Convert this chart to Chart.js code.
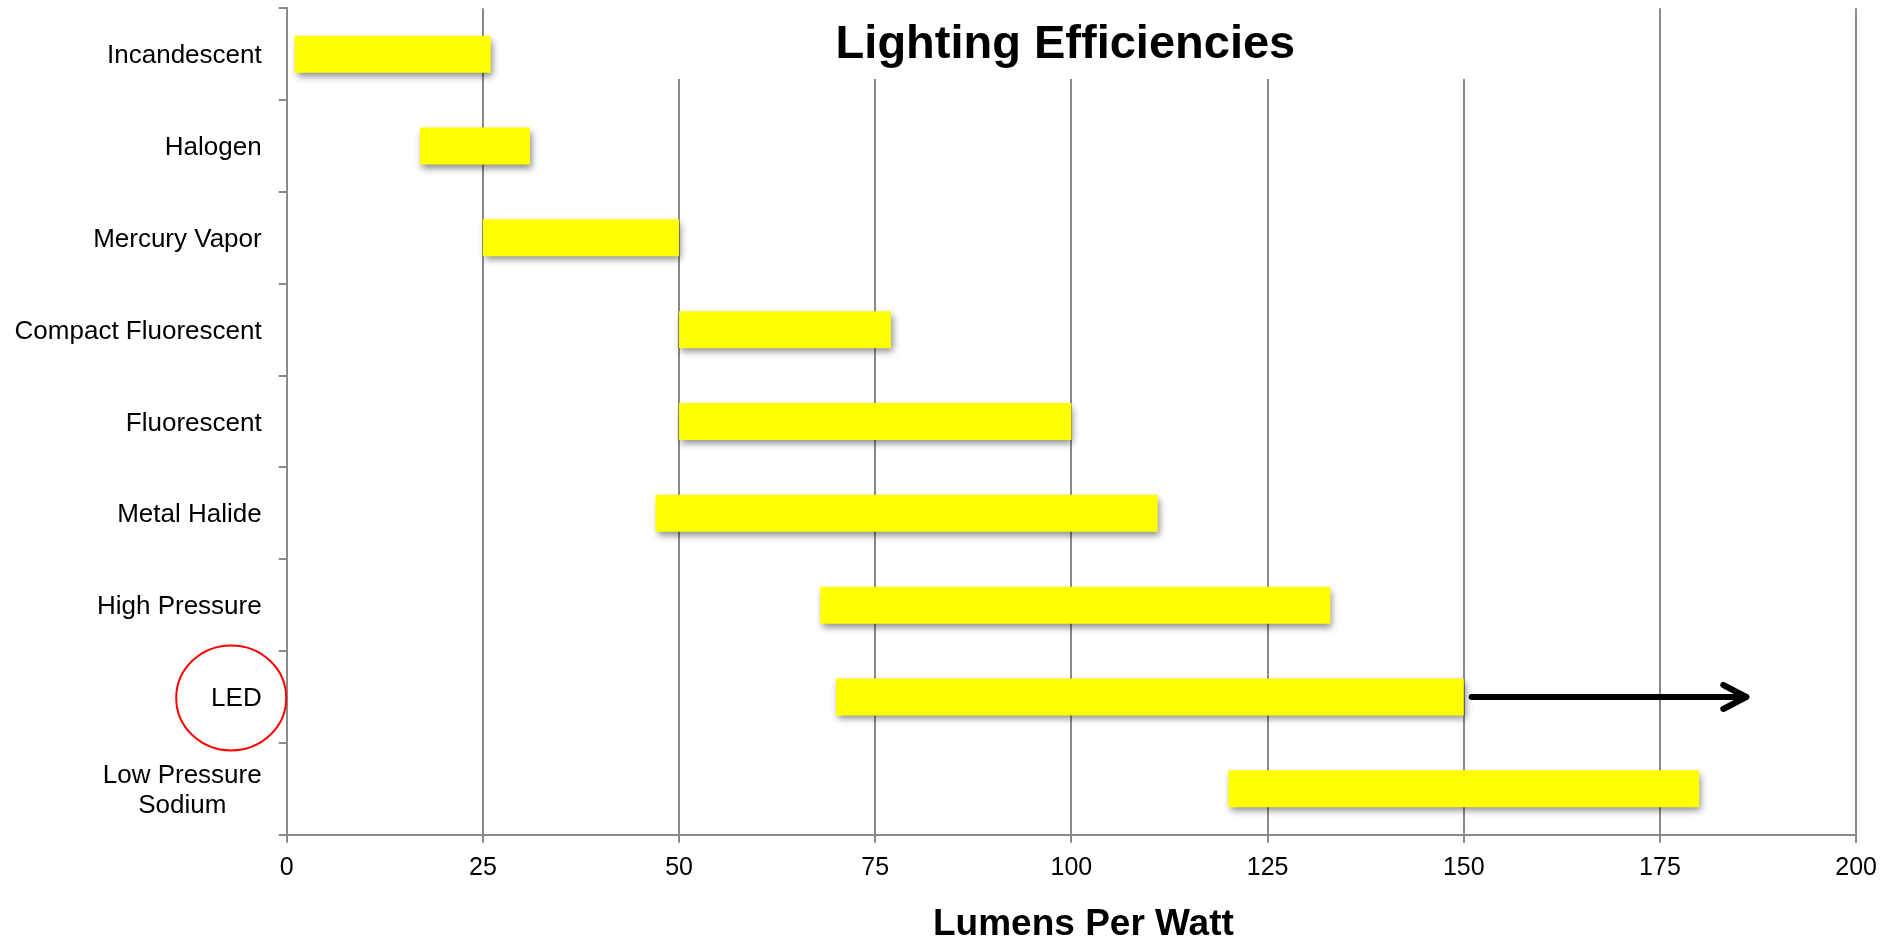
<!DOCTYPE html>
<html>
<head>
<meta charset="utf-8">
<script src="https://cdn.jsdelivr.net/npm/chart.js@4/dist/chart.umd.min.js"></script>
<style>
  html, body { margin: 0; padding: 0; background: #ffffff; }
  canvas { display: block; }
</style>
</head>
<body>
<canvas id="c" width="1887" height="936"></canvas>
<script>
// ---- data ----
const categories = ['Incandescent', 'Halogen', 'Mercury Vapor', 'Compact Fluorescent', 'Fluorescent',
                    'Metal Halide', 'High Pressure', 'LED', ['Low Pressure', 'Sodium']];
const lowValues  = [1, 17, 25, 50, 50, 47, 68, 70, 120];
const highValues = [26, 31, 50, 77, 100, 111, 133, 150, 180];
const xTickValues = [0, 25, 50, 75, 100, 125, 150, 175, 200];
const ledArrow = [151, 186];          // arrow extending the LED range
const chartTitle = 'Lighting Efficiencies';
const xAxisTitle = 'Lumens Per Watt';
const highlightedCategory = 'LED';

const FONT = '"Liberation Sans", Arial, Helvetica, sans-serif';
const GRID = '#8a8a8a';

const rangeData = lowValues.map((v, i) => [v, highValues[i]]);

const decorPlugin = {
  id: 'decor',
  beforeDatasetsDraw(chart) {
    const ctx = chart.ctx;
    const x = chart.scales.x;
    // white title panel covering the gridlines behind the title
    ctx.save();
    ctx.fillStyle = '#ffffff';
    const x0 = x.getPixelForValue(35), x1 = x.getPixelForValue(165);
    ctx.fillRect(x0, chart.chartArea.top - 2, x1 - x0, 79 - chart.chartArea.top + 2);
    ctx.fillStyle = '#000000';
    ctx.font = 'bold 47px ' + FONT;
    ctx.textAlign = 'center';
    ctx.textBaseline = 'alphabetic';
    ctx.fillText(chartTitle, (x0 + x1) / 2 - 6, 58);
    ctx.restore();
    // bar shadows
    ctx.save();
    ctx.shadowColor = 'rgba(0,0,0,0.45)';
    ctx.shadowBlur = 7;
    ctx.shadowOffsetX = 2;
    ctx.shadowOffsetY = 4;
  },
  afterDatasetsDraw(chart) {
    chart.ctx.restore();
  },
  afterDraw(chart) {
    const ctx = chart.ctx;
    const x = chart.scales.x, y = chart.scales.y;
    const area = chart.chartArea;
    ctx.save();
    // category labels (multi-line labels centred on their own lines)
    ctx.font = '26px ' + FONT;
    ctx.fillStyle = '#000000';
    ctx.textBaseline = 'middle';
    const rightEdge = area.left - 25;
    const lh = 30;
    categories.forEach((lab, i) => {
      const cy = y.getPixelForTick(i) + 2;
      const lines = Array.isArray(lab) ? lab : [lab];
      const maxW = Math.max(...lines.map(l => ctx.measureText(l).width));
      lines.forEach((l, k) => {
        const ly = cy + (k - (lines.length - 1) / 2) * lh;
        if (lines.length > 1) {
          ctx.textAlign = 'center';
          ctx.fillText(l, rightEdge - maxW / 2, ly);
        } else {
          ctx.textAlign = 'right';
          ctx.fillText(l, rightEdge, ly);
        }
      });
    });
    // red ellipse around highlighted label
    const li = categories.indexOf(highlightedCategory);
    const ly = y.getPixelForTick(li);
    ctx.strokeStyle = '#ff0000';
    ctx.lineWidth = 2;
    ctx.beginPath();
    ctx.ellipse(area.left - 55.5, ly + 1, 55, 52.5, 0, 0, Math.PI * 2);
    ctx.stroke();
    // arrow
    const ax0 = x.getPixelForValue(ledArrow[0]);
    const ax1 = x.getPixelForValue(ledArrow[1]);
    ctx.strokeStyle = '#000000';
    ctx.lineWidth = 6;
    ctx.lineCap = 'round';
    ctx.lineJoin = 'round';
    ctx.beginPath();
    ctx.moveTo(ax0, ly);
    ctx.lineTo(ax1, ly);
    ctx.stroke();
    ctx.beginPath();
    ctx.moveTo(ax1 - 23, ly - 12);
    ctx.lineTo(ax1, ly);
    ctx.lineTo(ax1 - 23, ly + 12);
    ctx.stroke();
    // x axis title
    ctx.font = 'bold 37px ' + FONT;
    ctx.textAlign = 'center';
    ctx.textBaseline = 'alphabetic';
    ctx.fillStyle = '#000000';
    ctx.fillText(xAxisTitle, (area.left + area.right) / 2 + 12, 934.5);
    ctx.restore();
  }
};

new Chart(document.getElementById('c'), {
  type: 'bar',
  data: {
    labels: categories,
    datasets: [{
      data: rangeData,
      backgroundColor: '#ffff00',
      borderWidth: 0,
      barPercentage: 0.403,
      categoryPercentage: 1.0
    }]
  },
  options: {
    indexAxis: 'y',
    responsive: false,
    animation: false,
    devicePixelRatio: 1,
    layout: { padding: { left: 0, right: 27.7, top: 8.3, bottom: 0 } },
    plugins: {
      legend: { display: false },
      tooltip: { enabled: false },
      title: { display: false }
    },
    scales: {
      x: {
        type: 'linear',
        min: 0,
        max: 200,
        afterFit(s) { s.height = 101.3; },
        afterBuildTicks(s) { s.ticks = xTickValues.map(v => ({ value: v })); },
        grid: { color: GRID, lineWidth: 2, tickLength: 8, drawTicks: true },
        border: { color: GRID, width: 2 },
        ticks: {
          color: '#000000',
          font: { family: FONT, size: 25 },
          padding: 10,
          maxRotation: 0
        }
      },
      y: {
        type: 'category',
        afterFit(s) { s.width = 286.7; },
        grid: { drawOnChartArea: false, drawTicks: true, tickLength: 8, color: GRID, lineWidth: 2, offset: true },
        border: { color: GRID, width: 2 },
        ticks: { display: false }
      }
    }
  },
  plugins: [decorPlugin]
});
</script>
</body>
</html>
